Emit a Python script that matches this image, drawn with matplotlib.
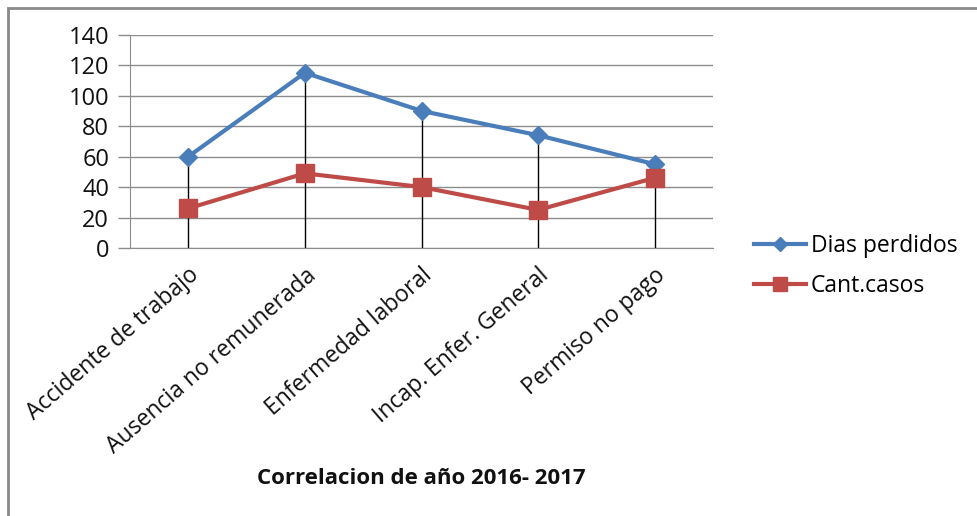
import matplotlib.pyplot as plt
import matplotlib.patches as mpatches

# data
categorias = ['Accidente de trabajo', 'Ausencia no remunerada', 'Enfermedad laboral',
              'Incap. Enfer. General', 'Permiso no pago']
dias_perdidos = [60, 115, 90, 74, 55]
cant_casos = [26, 49, 40, 25, 46]
y_ticks = [0, 20, 40, 60, 80, 100, 120, 140]

plt.rcParams['font.family'] = ['Open Sans', 'DejaVu Sans']

fig = plt.figure(figsize=(9.77, 5.16), dpi=100)
ax = fig.add_axes([130 / 977, 1 - 248 / 516, 583 / 977, (248 - 34.7) / 516])

x = list(range(len(categorias)))

# drop lines from the highest point of each category down to the axis
tops = [max(a, b) for a, b in zip(dias_perdidos, cant_casos)]
ax.vlines(x, 0, tops, color='black', linewidth=1, zorder=2)

ax.plot(x, dias_perdidos, color='#4A7EBB', linewidth=3, marker='D', markersize=9,
        label='Dias perdidos', zorder=3)
ax.plot(x, cant_casos, color='#BE4B48', linewidth=3, marker='s', markersize=13,
        label='Cant.casos', zorder=4)

ax.set_xlim(-0.5, len(categorias) - 0.5)
ax.set_ylim(0, 140)
ax.set_yticks(y_ticks)
ax.yaxis.grid(True, color='#8c8c8c', linewidth=1)
ax.set_axisbelow(True)

ax.set_xticks(x)
ax.set_xticklabels(categorias, rotation=41, ha='right', rotation_mode='anchor',
                   fontsize=16.5, color='#111111')
ax.tick_params(axis='x', length=0, pad=11)
ax.tick_params(axis='y', length=9, color='#8c8c8c', width=1, labelsize=17,
               labelcolor='#111111', pad=6)

for s in ['top', 'right']:
    ax.spines[s].set_visible(False)
ax.spines['left'].set_color('#8c8c8c')
ax.spines['bottom'].set_color('#8c8c8c')

ax.text(0.5, -1.08, 'Correlacion de año 2016- 2017', transform=ax.transAxes,
        ha='center', va='center', fontsize=16, fontweight='bold', color='#111111')

leg = fig.legend(loc='upper left', bbox_to_anchor=(733 / 977, 1 - 213 / 516),
                 frameon=False, fontsize=16.5, handlelength=2.3, handletextpad=0.2,
                 labelspacing=0.7, markerscale=0.8)

# outer chart frame (only top and left edges show)
frame = mpatches.Rectangle((8 / 977, -0.1), 1.2, 1 - 8 / 516 + 0.1, transform=fig.transFigure,
                           fill=False, edgecolor='#8a8a8a', linewidth=2)
fig.patches.append(frame)

fig.savefig('out.png', dpi=100)
